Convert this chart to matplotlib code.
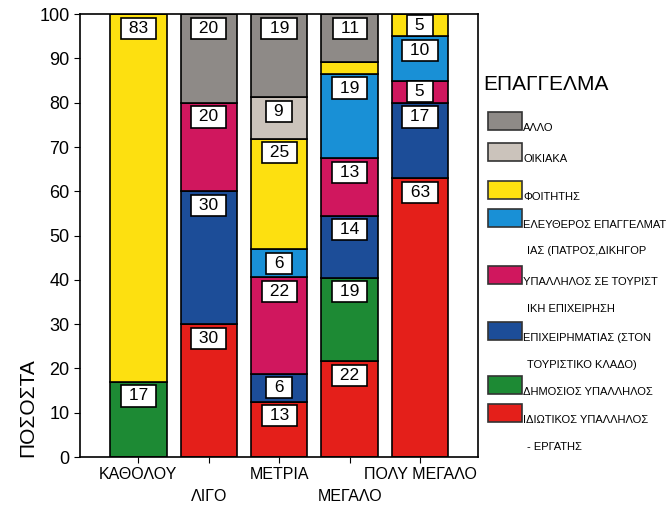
import matplotlib
matplotlib.use("Agg")
import matplotlib.pyplot as plt
from matplotlib.patches import Rectangle
import numpy as np

plt.rcParams["font.family"] = ["Liberation Sans", "DejaVu Sans"]

categories = ["ΚΑΘΟΛΟΥ", "ΛΙΓΟ", "ΜΕΤΡΙΑ", "ΜΕΓΑΛΟ", "ΠΟΛΥ ΜΕΓΑΛΟ"]

# stacked bottom -> top
idiotikos = [0, 30, 12.5, 21.6, 63]
dimosios = [17, 0, 0, 18.9, 0]
epixeirimatias = [0, 30, 6.25, 14.0, 17]
ypallilos_tour = [0, 20, 21.9, 13.0, 5]
eleftheros = [0, 0, 6.25, 19.0, 10]
foititis = [83, 0, 25, 2.7, 5]
oikiaka = [0, 0, 9.35, 0, 0]
allo = [0, 20, 18.75, 10.8, 0]

series = [idiotikos, dimosios, epixeirimatias, ypallilos_tour,
          eleftheros, foititis, oikiaka, allo]
colors = ["#e41f1a", "#1d8a34", "#1c4d98", "#d0175e",
          "#1990d6", "#fde010", "#cbc3bb", "#8e8a87"]
# legend (top -> bottom), split over lines as in the original
legend_labels = [
    ["ΑΛΛΟ"],
    ["ΟΙΚΙΑΚΑ"],
    ["ΦΟΙΤΗΤΗΣ"],
    ["ΕΛΕΥΘΕΡΟΣ ΕΠΑΓΓΕΛΜΑΤ", "ΙΑΣ (ΠΑΤΡΟΣ,ΔΙΚΗΓΟΡ"],
    ["ΥΠΑΛΛΗΛΟΣ ΣΕ ΤΟΥΡΙΣΤ", "ΙΚΗ ΕΠΙΧΕΙΡΗΣΗ"],
    ["ΕΠΙΧΕΙΡΗΜΑΤΙΑΣ (ΣΤΟΝ", "ΤΟΥΡΙΣΤΙΚΟ ΚΛΑΔΟ)"],
    ["ΔΗΜΟΣΙΟΣ ΥΠΑΛΛΗΛΟΣ"],
    ["ΙΔΙΩΤΙΚΟΣ ΥΠΑΛΛΗΛΟΣ", "- ΕΡΓΑΤΗΣ"],
]
legend_colors = colors[::-1]

fig = plt.figure(figsize=(6.72, 5.05), dpi=100)
ax = fig.add_axes([0.119, 0.095, 0.592, 0.877])

x = np.arange(len(categories))
bottom = np.zeros(len(categories))
for vals, col in zip(series, colors):
    vals = np.asarray(vals, dtype=float)
    ax.bar(x, vals, 0.8, bottom=bottom, color=col, edgecolor="black", lw=1.2, zorder=2)
    for i, v in enumerate(vals):
        if v >= 4:
            top = bottom[i] + v
            y = top - min(3.2, v / 2)
            ax.text(x[i], y, f" {int(round(v + 1e-9))} ", ha="center", va="center",
                    fontsize=12.5, zorder=4, clip_on=False,
                    bbox=dict(boxstyle="square,pad=0.18", fc="white", ec="black", lw=1.2))
    bottom += vals

ax.set_xlim(-0.83, 4.82)
ax.set_ylim(0, 100)
ax.set_yticks(np.arange(0, 101, 10))
ax.tick_params(axis="y", labelsize=13, length=4, direction="out")
ax.set_xticks(x)
ax.set_xticklabels(categories, fontsize=11.5)
ax.tick_params(axis="x", length=4, direction="out")
for i, t in enumerate(ax.xaxis.get_major_ticks()):
    if i % 2 == 1:
        t.set_pad(19)
for s in ax.spines.values():
    s.set_linewidth(1.2)

fig.text(0.042, 0.095, "ΠΟΣΟΣΤΑ", rotation=90, fontsize=15, ha="center", va="bottom")

# legend
fig.text(483 / 672, 1 - 85 / 505, "ΕΠΑΓΓΕΛΜΑ", fontsize=15, ha="left", va="center")
rows = [128, 159, 197, 225, 282, 338, 392, 420]
for labs, col, yb in zip(legend_labels, legend_colors, rows):
    fy = 1 - (yb + 2) / 505
    fig.patches.append(Rectangle((488 / 672, fy), 34 / 672, 18 / 505, transform=fig.transFigure,
                                 fc=col, ec="#333333", lw=1.2))
    for j, t in enumerate(labs):
        fig.text(523 / 672 + (0.006 if j else 0), 1 - (yb + j * 26.5) / 505, t,
                 fontsize=8, ha="left", va="center")

fig.savefig("out.png", dpi=100)
